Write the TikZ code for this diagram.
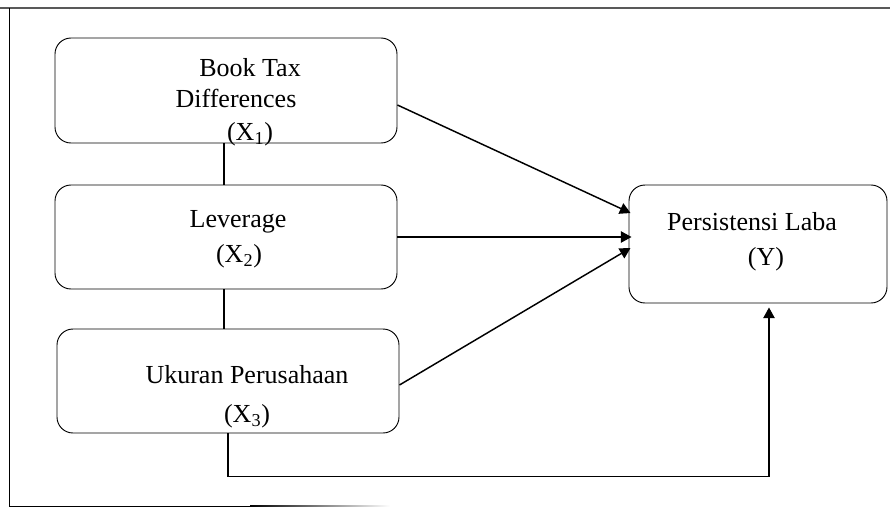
\documentclass[tikz,border=0pt]{standalone}
\usepackage{fontspec}
\setmainfont{Liberation Serif}
\usetikzlibrary{calc}
\usetikzlibrary{arrows.meta}

\begin{document}
\begin{tikzpicture}[x=0.75pt,y=-0.75pt,
        box/.style={draw,line width=0.7pt,rounded corners=12pt,inner sep=0pt,minimum width=256.5pt,minimum height=78pt},
        lbl/.style={anchor=base,inner sep=0pt,font=\fontsize{19.5}{22}\selectfont},
        arr/.style={line width=1.1pt,-{Triangle[length=8pt,width=8.5pt]}}]
            \useasboundingbox (0,0) rectangle (890,508);
            % frame
            \draw[black!65,line width=1.5pt] (0,8) -- (890,8);
            \draw[line width=0.7pt] (9,8) -- (9,506) -- (250,506);
            \shade[left color=black,right color=white] (250,505.55) rectangle (390,506.45);
            % boxes
            \node[box,minimum height=78.75pt] (btd) at (226,90.5) {};
            \node[box] (lev) at (226,237) {};
            \node[box] (size) at (228,381) {};
            \node[box,minimum width=193.5pt,minimum height=88.5pt] (laba) at (758,244) {};
            % texts
            \node[lbl] (btdA) at (250,76) {Book Tax};
            \node[lbl] (btdB) at (236,107) {Differences};
            \node[lbl] (btdC) at (250,140) {(X\textsubscript{1})};
            \node[lbl] (levA) at (238,227) {Leverage};
            \node[lbl] (levB) at (239,262) {(X\textsubscript{2})};
            \node[lbl] (sizeA) at (247,383) {Ukuran Perusahaan};
            \node[lbl] (sizeB) at (247,422) {(X\textsubscript{3})};
            \node[lbl] (labaA) at (752,230) {Persistensi Laba};
            \node[lbl] (labaB) at (766,265) {(Y)};
            % connectors
            \draw[line width=0.9pt] ($(btd.south)+(-2,0)$) -- ($(lev.north)+(-2,0)$);
            \draw[line width=0.9pt] ($(lev.south)+(-2,0)$) -- ($(lev.south |- size.north)+(-2,0)$);
            \draw[arr] ($(btd.east)+(0,14.5)$) -- ($(laba.west)+(2,-31)$);
            \draw[arr] (lev.east) -- ($(laba.west |- lev.east)+(3,0)$);
            \draw[arr] ($(size.east)+(0,4)$) -- ($(laba.west)+(2,4)$);
            \draw[arr] (size.south) -- ++(0,43) -| ($(laba.south)+(11,4)$);
        \end{tikzpicture}
\end{document}
